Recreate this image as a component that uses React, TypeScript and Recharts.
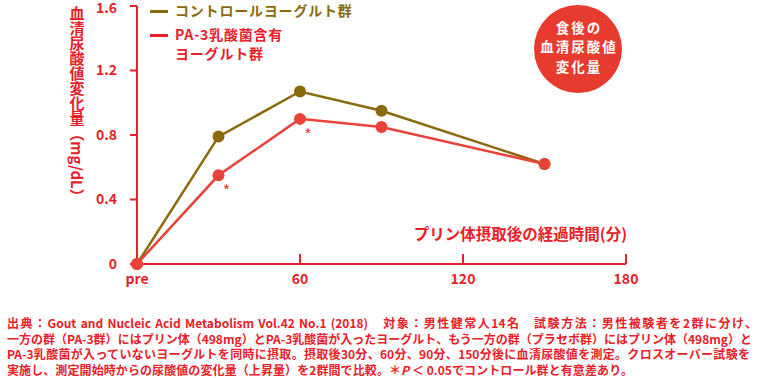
import { LineChart, Line, XAxis, YAxis, LabelList, Label } from "recharts";

const TIMES = [0, 30, 60, 90, 150];
const CONTROL = [0, 0.79, 1.07, 0.95, 0.62];
const PA3 = [0, 0.55, 0.9, 0.85, 0.62];
const PA3_SIG = ["", "*", "*", "", ""];

const X_TICKS = [0, 60, 120, 180];
const Y_TICKS = [0, 0.4, 0.8, 1.2, 1.6];

const SERIES_NAMES = ["コントロールヨーグルト群", "PA-3乳酸菌含有", "ヨーグルト群"];
const Y_TITLE = "血清尿酸値変化量（mg/dL）";
const X_TITLE = "プリン体摂取後の経過時間(分)";
const BADGE = ["食後の", "血清尿酸値", "変化量"];

const NOTES = [
  "出典：Gout and Nucleic Acid Metabolism Vol.42 No.1 (2018)　対象：男性健常人14名　試験方法：男性被験者を2群に分け、",
  "一方の群（PA-3群）にはプリン体（498mg）とPA-3乳酸菌が入ったヨーグルト、もう一方の群（プラセボ群）にはプリン体（498mg）と",
  "PA-3乳酸菌が入っていないヨーグルトを同時に摂取。摂取後30分、60分、90分、150分後に血清尿酸値を測定。クロスオーバー試験を",
];
const NOTE_LAST = ["実施し、測定開始時からの尿酸値の変化量（上昇量）を2群間で比較。＊", "P", " ＜ 0.05でコントロール群と有意差あり。"];

const RED = "#e8202a";
const LINE_RED = "#e94239";
const OLIVE = "#8b6a0c";
const FONT = "'Noto Sans CJK JP', 'Noto Sans', sans-serif";

const data = TIMES.map((t, i) => ({
  time: t,
  control: CONTROL[i],
  pa3: PA3[i],
  sig: PA3_SIG[i],
}));

function XTick(props: any) {
  const { x, y, payload } = props;
  const v = payload.value;
  return (
    <g>
      {v !== 0 && <line x1={x} x2={x} y1={y - 10} y2={y} stroke={RED} strokeWidth={2} />}
      <text x={x} y={y + 20} textAnchor="middle" fill={RED} fontSize={14} fontWeight={700} fontFamily={FONT}>
        {v === 0 ? "pre" : v}
      </text>
    </g>
  );
}

function YTitle(props: any) {
  const { viewBox } = props;
  return (
    <text
      x={viewBox.x + 77}
      y={viewBox.y}
      fill={RED}
      fontSize={15}
      fontWeight={700}
      fontFamily={FONT}
      style={{ writingMode: "vertical-rl" }}
    >
      {Y_TITLE}
    </text>
  );
}

function XTitle(props: any) {
  const { viewBox } = props;
  return (
    <text
      x={viewBox.x + viewBox.width + 1}
      y={viewBox.y - 24}
      textAnchor="end"
      fill={RED}
      fontSize={15.5}
      fontWeight={700}
      fontFamily={FONT}
    >
      {X_TITLE}
    </text>
  );
}

function SigMark(props: any) {
  const { x, y, value } = props;
  if (!value) return null;
  return (
    <text x={x + 8} y={y + 22} textAnchor="middle" fill={LINE_RED} fontSize={16} fontFamily={FONT}>
      {value}
    </text>
  );
}

function LegendRow({ color, lines }: { color: string; lines: string[] }) {
  return (
    <div style={{ display: "flex", alignItems: "flex-start", marginBottom: 5 }}>
      <div style={{ width: 18, height: 3, background: color, marginTop: 9, marginRight: 7 }} />
      <div style={{ color, fontSize: 14, fontWeight: 700, lineHeight: "19px", letterSpacing: "0.8px" }}>
        {lines.map((l) => (
          <div key={l}>{l}</div>
        ))}
      </div>
    </div>
  );
}

const noteLine = (width: number): React.CSSProperties => ({
  width,
  height: 15.6,
  lineHeight: "15.6px",
  whiteSpace: "nowrap",
  textAlign: "justify",
  textAlignLast: "justify",
  textJustify: "inter-character" as any,
});

export default function App() {
  return (
    <div
      style={{
        position: "absolute",
        left: 0,
        top: 0,
        width: 760,
        height: 378,
        background: "#fff",
        fontFamily: FONT,
        overflow: "hidden",
      }}
    >
      <LineChart width={760} height={300} data={data} margin={{ top: 6, right: 134, bottom: 6, left: 0 }}>
        <XAxis
          dataKey="time"
          type="number"
          domain={[0, 180]}
          ticks={X_TICKS}
          height={30}
          tickSize={0}
          tickMargin={0}
          tickLine={false}
          axisLine={{ stroke: RED, strokeWidth: 2 }}
          tick={<XTick />}
        >
          <Label content={<XTitle />} />
        </XAxis>
        <YAxis
          type="number"
          domain={[0, 1.6]}
          ticks={Y_TICKS}
          width={137}
          tickSize={7}
          tickMargin={13}
          tickFormatter={(v: number) => (v === 0 ? "0" : v.toFixed(1))}
          tick={{ fill: RED, fontSize: 14, fontWeight: 700, fontFamily: FONT }}
          tickLine={{ stroke: RED, strokeWidth: 2 }}
          axisLine={{ stroke: RED, strokeWidth: 2 }}
        >
          <Label content={<YTitle />} />
        </YAxis>
        <Line
          dataKey="control"
          type="linear"
          stroke={OLIVE}
          strokeWidth={2.5}
          dot={{ r: 6, fill: OLIVE, strokeWidth: 0 }}
          activeDot={false}
          isAnimationActive={false}
        />
        <Line
          dataKey="pa3"
          type="linear"
          stroke={LINE_RED}
          strokeWidth={2.5}
          dot={{ r: 6, fill: LINE_RED, strokeWidth: 0 }}
          activeDot={false}
          isAnimationActive={false}
        >
          <LabelList dataKey="sig" content={<SigMark />} />
        </Line>
      </LineChart>

      <div style={{ position: "absolute", left: 150, top: 1 }}>
        <LegendRow color={OLIVE} lines={[SERIES_NAMES[0]]} />
        <LegendRow color={RED} lines={[SERIES_NAMES[1], SERIES_NAMES[2]]} />
      </div>

      <div
        style={{
          position: "absolute",
          left: 534,
          top: 5,
          width: 88,
          height: 88,
          borderRadius: "50%",
          background: "#e63b2e",
          color: "#fff",
          fontSize: 13.5,
          fontWeight: 700,
          lineHeight: "19.6px",
          letterSpacing: "2px",
          display: "flex",
          flexDirection: "column",
          alignItems: "center",
          justifyContent: "center",
          paddingBottom: 4,
          paddingLeft: 2,
          boxSizing: "border-box",
        }}
      >
        {BADGE.map((l) => (
          <div key={l} style={{ height: 19.6 }}>{l}</div>
        ))}
      </div>

      <div
        style={{
          position: "absolute",
          left: 7,
          top: 315,
          color: RED,
          fontSize: 12,
          fontWeight: 700,
        }}
      >
        <div style={noteLine(750)}>{NOTES[0]}</div>
        <div style={noteLine(745)}>{NOTES[1]}</div>
        <div style={noteLine(743)}>{NOTES[2]}</div>
        <div style={noteLine(626)}>
          {NOTE_LAST[0]}
          <i>{NOTE_LAST[1]}</i>
          {NOTE_LAST[2]}
        </div>
      </div>
    </div>
  );
}
